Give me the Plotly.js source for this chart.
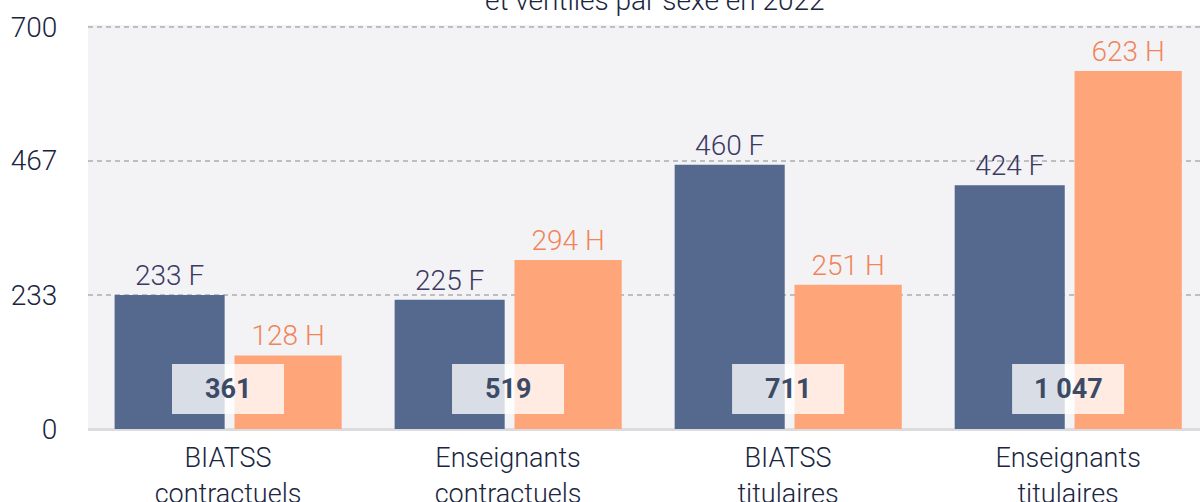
<!DOCTYPE html>
<html><head><meta charset="utf-8">
<script src="https://cdn.plot.ly/plotly-3.0.1.min.js"></script>
<style>html,body{margin:0;padding:0;background:#fff;}#chart{width:1200px;height:502px;}</style>
</head><body><div id="chart"></div>
<script>
const categories = ["BIATSS<br>contractuels", "Enseignants<br>contractuels", "BIATSS<br>titulaires", "Enseignants<br>titulaires"];
const femmes = [233, 225, 460, 424];
const hommes = [128, 294, 251, 623];
const totals = ["361", "519", "711", "1 047"];
const tickVals = [0, 233, 467, 700];
const titleText = "et ventilés par sexe en 2022";

const FONT = "Roboto, 'Liberation Sans', Arial, sans-serif";
const idx = categories.map((c, i) => i);

const traceF = {
  type: "bar", x: idx, y: femmes, name: "F",
  offset: -0.405, width: 0.393,
  marker: {color: "#55698f"},
  texttemplate: "%{y} F", textposition: "outside",
  textfont: {family: FONT, size: 28, color: "#3b3a63", weight: 300},
  cliponaxis: false, hoverinfo: "skip"
};
const traceH = {
  type: "bar", x: idx, y: hommes, name: "H",
  offset: 0.023, width: 0.383,
  marker: {color: "#ffa57a"},
  texttemplate: "%{y} H", textposition: "outside",
  textfont: {family: FONT, size: 28, color: "#f0855a", weight: 300},
  cliponaxis: false, hoverinfo: "skip"
};

const shapes = idx.map(i => ({
  type: "rect", xref: "x", yref: "y",
  x0: i - 0.2, x1: i + 0.2, y0: 26, y1: 113,
  fillcolor: "rgba(255,255,255,0.78)", line: {width: 0}, layer: "above"
}));
const annotations = idx.map(i => ({
  xref: "x", yref: "y", x: i, y: 69.5, text: "<b>" + totals[i] + "</b>",
  showarrow: false, font: {family: FONT, size: 27, color: "#3d4a66"}
}));
annotations.push({
  xref: "paper", yref: "paper", x: 0.51, y: 1, yanchor: "middle", yshift: 25,
  text: titleText, showarrow: false,
  font: {family: FONT, size: 28, color: "#1a2540", weight: 300}
});

const layout = {
  width: 1200, height: 502,
  margin: {l: 88, r: 0, t: 25, b: 73},
  paper_bgcolor: "#ffffff", plot_bgcolor: "#f3f3f6",
  showlegend: false, barmode: "overlay",
  font: {family: FONT, size: 28, color: "#1a2540", weight: 300},
  xaxis: {
    range: [-0.5, 3.471], tickvals: idx, ticktext: categories,
    ticks: "outside", ticklen: 5, tickcolor: "rgba(0,0,0,0)",
    showgrid: false, zeroline: false, showline: false,
    tickfont: {family: FONT, size: 27, color: "#1a2540", weight: 300},
    fixedrange: true
  },
  yaxis: {
    range: [0, 703], tickvals: tickVals, ticktext: tickVals.map(String),
    ticks: "outside", ticklen: 24, tickcolor: "rgba(0,0,0,0)",
    showgrid: true, gridcolor: "#bdbdc2", gridwidth: 2, griddash: "5px,4px",
    zeroline: true, zerolinecolor: "#dcdcdf", zerolinewidth: 3,
    showline: false,
    tickfont: {family: FONT, size: 28, color: "#1a2540", weight: 300},
    fixedrange: true
  },
  shapes: shapes, annotations: annotations
};

Plotly.newPlot("chart", [traceF, traceH], layout, {displayModeBar: false, staticPlot: true});
</script></body></html>
